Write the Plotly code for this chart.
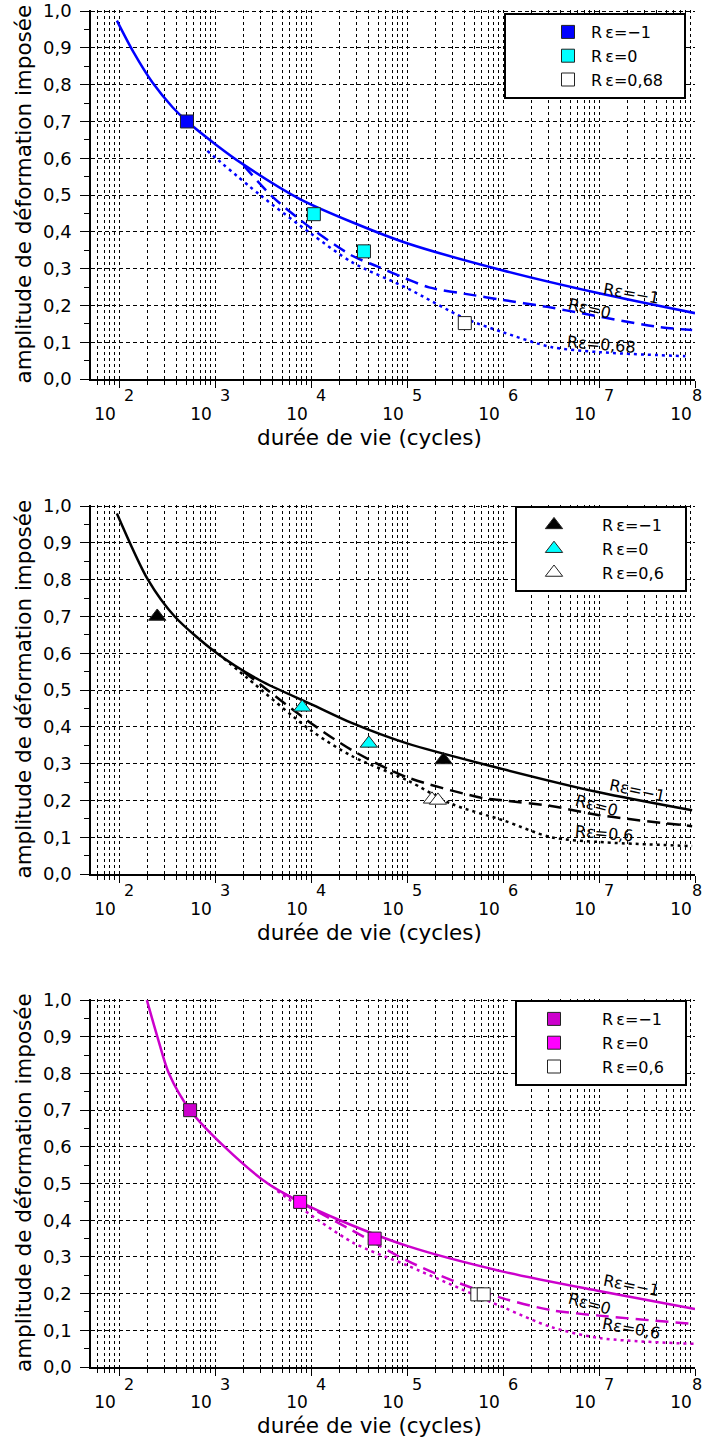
import math
import plotly.graph_objects as go

FONT = "DejaVu Sans, Liberation Sans, Arial, sans-serif"

# ---------------- axes ----------------
decades = [1e2, 1e3, 1e4, 1e5, 1e6, 1e7, 1e8]
decade_base = ["10"] * 7
decade_exp = ["2", "3", "4", "5", "6", "7", "8"]
minor_x = [m * 10 ** k for k in range(1, 8) for m in range(2, 10) if m * 10 ** k > 50]
y_ticks = [0.0, 0.1, 0.2, 0.3, 0.4, 0.5, 0.6, 0.7, 0.8, 0.9, 1.0]
y_ticklabels = ["0,0", "0,1", "0,2", "0,3", "0,4", "0,5", "0,6", "0,7", "0,8", "0,9", "1,0"]
y_minor = [0.05, 0.15, 0.25, 0.35, 0.45, 0.55, 0.65, 0.75, 0.85, 0.95]
x_title = "durée de vie (cycles)"
y_title = "amplitude de déformation imposée"

# ---------------- panel 1 (blue) ----------------
p1_m1_N = [95, 141, 224, 363, 513, 1047, 1950, 7670, 26900, 1e5, 1e6, 1e7, 1e8]
p1_m1_amp = [0.974, 0.889, 0.805, 0.738, 0.70, 0.635, 0.584, 0.489, 0.426, 0.369, 0.295, 0.233, 0.179]
p1_0_N = [1995, 3981, 1e4, 26900, 48980, 95500, 169800, 489800, 933300, 2884000, 5623000, 38020000, 93330000]
p1_0_amp = [0.58, 0.495, 0.41, 0.335, 0.306, 0.274, 0.249, 0.228, 0.216, 0.196, 0.182, 0.143, 0.133]
p1_r_N = [832, 2951, 1e4, 26900, 1e5, 398100, 1e6, 3162000, 1e7, 79430000]
p1_r_amp = [0.62, 0.50, 0.395, 0.317, 0.247, 0.165, 0.127, 0.087, 0.073, 0.062]
p1_pts_m1_N = [510]
p1_pts_m1_amp = [0.70]
p1_pts_0_N = [10700, 35600]
p1_pts_0_amp = [0.448, 0.347]
p1_pts_r_N = [400000]
p1_pts_r_amp = [0.152]

# ---------------- panel 2 (black) ----------------
p2_m1_N = [95, 200, 380, 1047, 2951, 1e4, 26900, 1e5, 1e6, 1e7, 93330000]
p2_m1_amp = [0.98, 0.80, 0.70, 0.60, 0.526, 0.462, 0.41, 0.355, 0.285, 0.222, 0.173]
p2_0_N = [1995, 1e4, 26900, 1e5, 631000, 1e6, 3162000, 1e7, 93330000]
p2_0_amp = [0.55, 0.41, 0.336, 0.263, 0.206, 0.20, 0.185, 0.16, 0.13]
p2_r_N = [955, 2138, 1e4, 26900, 1e5, 295100, 1e6, 3162000, 1e7, 93330000]
p2_r_amp = [0.61, 0.534, 0.39, 0.32, 0.255, 0.19, 0.146, 0.10, 0.087, 0.076]
p2_pts_m1_N = [250, 240000]
p2_pts_m1_amp = [0.70, 0.31]
p2_pts_0_N = [8100, 40000]
p2_pts_0_amp = [0.453, 0.355]
p2_pts_r_N = [182000, 210000]
p2_pts_r_amp = [0.203, 0.20]

# ---------------- panel 3 (magenta) ----------------
p3_m1_N = [195, 251, 331, 550, 1259, 3548, 7700, 19950, 1e5, 1e6, 1e7, 1e8]
p3_m1_amp = [1.0, 0.90, 0.80, 0.70, 0.60, 0.50, 0.45, 0.40, 0.33, 0.26, 0.207, 0.158]
p3_0_N = [5012, 26900, 1e5, 295100, 1e6, 3162000, 1e7, 1e8]
p3_0_amp = [0.475, 0.372, 0.29, 0.236, 0.187, 0.155, 0.14, 0.117]
p3_r_N = [4467, 26900, 1e5, 1e6, 3162000, 1e7, 1e8]
p3_r_amp = [0.48, 0.34, 0.277, 0.163, 0.109, 0.079, 0.063]
p3_pts_m1_N = [550]
p3_pts_m1_amp = [0.70]
p3_pts_0_N = [7700, 46000]
p3_pts_0_amp = [0.45, 0.35]
p3_pts_r_N = [540000, 630000]
p3_pts_r_amp = [0.198, 0.198]

# curve labels: (text, N, amp, angle)
p1_labels = [("Rε=−1", 2.2e7, 0.233, 10), ("Rε=0", 7.9e6, 0.192, 13), ("Rε=0,68", 1.07e7, 0.095, 5)]
p2_labels = [("Rε=−1", 2.5e7, 0.228, 12), ("Rε=0", 9.5e6, 0.187, 15), ("Rε=0,6", 1.15e7, 0.111, 5)]
p3_labels = [("Rε=−1", 2.2e7, 0.223, 11), ("Rε=0", 7.9e6, 0.174, 15), ("Rε=0,6", 2.2e7, 0.106, 10)]

PAD = "\u00a0\u00a0\u00a0"
legend_names = [["R\u2009ε=−1" + PAD, "R\u2009ε=0" + PAD, "R\u2009ε=0,68" + PAD],
                ["R\u2009ε=−1" + PAD, "R\u2009ε=0" + PAD, "R\u2009ε=0,6" + PAD],
                ["R\u2009ε=−1" + PAD, "R\u2009ε=0" + PAD, "R\u2009ε=0,6" + PAD]]

W, H = 704, 1443
x_dom = [91 / W, 695 / W]
panels_px = [(10, 379), (505, 874), (999, 1367)]  # top, bottom pixel rows
legend_px = [(686, 13), (687, 506), (687, 1000)]
legend_item = [(36, 39), (86, -11), (86, -11)]  # itemwidth, indentation

panels = [
    dict(color="#0000ff", curves=[(p1_m1_N, p1_m1_amp), (p1_0_N, p1_0_amp), (p1_r_N, p1_r_amp)],
         pts=[(p1_pts_m1_N, p1_pts_m1_amp), (p1_pts_0_N, p1_pts_0_amp), (p1_pts_r_N, p1_pts_r_amp)],
         symbol="square", fills=["#0000ff", "#00ffff", "#ffffff"], labels=p1_labels),
    dict(color="#000000", curves=[(p2_m1_N, p2_m1_amp), (p2_0_N, p2_0_amp), (p2_r_N, p2_r_amp)],
         pts=[(p2_pts_m1_N, p2_pts_m1_amp), (p2_pts_0_N, p2_pts_0_amp), (p2_pts_r_N, p2_pts_r_amp)],
         symbol="triangle-up", fills=["#000000", "#00ffff", "#ffffff"], labels=p2_labels),
    dict(color="#cc00cc", curves=[(p3_m1_N, p3_m1_amp), (p3_0_N, p3_0_amp), (p3_r_N, p3_r_amp)],
         pts=[(p3_pts_m1_N, p3_pts_m1_amp), (p3_pts_0_N, p3_pts_0_amp), (p3_pts_r_N, p3_pts_r_amp)],
         symbol="square", fills=["#cc00cc", "#ff00ff", "#ffffff"], labels=p3_labels),
]

dashes = ["solid", "13px,7px", "3px,4px"]

fig = go.Figure()
annotations = []
layout = dict(
    width=W, height=H, margin=dict(l=0, r=0, t=0, b=0, autoexpand=False),
    paper_bgcolor="white", plot_bgcolor="white",
    font=dict(family=FONT, color="black"),
    showlegend=True,
)

for i, p in enumerate(panels):
    sfx = "" if i == 0 else str(i + 1)
    xa, ya = "x" + sfx, "y" + sfx
    leg = "legend" + sfx
    top, bot = panels_px[i]
    for (N, amp), dash in zip(p["curves"], dashes):
        fig.add_trace(go.Scatter(x=N, y=amp, mode="lines", xaxis=xa, yaxis=ya, showlegend=False,
                                 line=dict(color=p["color"], width=2.5, dash=dash, shape="spline", smoothing=0.8),
                                 hoverinfo="skip"))
    for (N, amp), fill, name in zip(p["pts"], p["fills"], legend_names[i]):
        fig.add_trace(go.Scatter(x=N, y=amp, mode="markers", xaxis=xa, yaxis=ya, name=name, legend=leg,
                                 marker=dict(symbol=p["symbol"], size=13 if p["symbol"] == "square" else 15,
                                             color=fill, line=dict(color="#222222", width=1))))
    layout["xaxis" + sfx] = dict(
        type="log", range=[1.708, 8.0], domain=x_dom, anchor=ya,
        tickvals=decades, ticktext=decade_base, ticks="outside", ticklen=7, tickcolor="black",
        tickfont=dict(size=17, family=FONT), ticklabelshift=-14, ticklabelstandoff=12,
        showline=True, linecolor="black", linewidth=1.5, zeroline=False,
        showgrid=True, gridcolor="#000000", gridwidth=1, griddash="3px,3px",
        minor=dict(tickvals=minor_x, ticks="outside", ticklen=4, tickcolor="black",
                   showgrid=True, gridcolor="#000000", gridwidth=1, griddash="3px,3px"),
    )
    layout["yaxis" + sfx] = dict(
        range=[0, 1.003], domain=[1 - bot / H, 1 - top / H], anchor=xa,
        tickvals=y_ticks, ticktext=y_ticklabels, ticks="outside", ticklen=9, tickcolor="black",
        tickfont=dict(size=18, family=FONT), ticklabelstandoff=5,
        showline=True, linecolor="black", linewidth=1.5, zeroline=False,
        showgrid=True, gridcolor="#000000", gridwidth=1, griddash="4px,3px",
        minor=dict(tickvals=y_minor, ticks="outside", ticklen=5, tickcolor="black", showgrid=False),
    )
    lx, ly = legend_px[i]
    iw, ind = legend_item[i]
    layout[leg] = dict(x=lx / W, xanchor="right", y=1 - ly / H, yanchor="top",
                       bgcolor="white", bordercolor="black", borderwidth=2,
                       font=dict(size=16, family=FONT), itemwidth=iw, indentation=ind,
                       tracegroupgap=0, traceorder="normal")
    # exponents of decade labels
    for j, (v, e) in enumerate(zip(decades, decade_exp)):
        annotations.append(dict(x=math.log10(v), y=0, xref=xa, yref=ya, text=e, showarrow=False,
                                xanchor="left", yanchor="middle", xshift=3 if j < 6 else -5, yshift=-17,
                                font=dict(size=16, family=FONT)))
    # curve labels
    for txt, N, amp, ang in p["labels"]:
        annotations.append(dict(x=math.log10(N), y=amp, xref=xa, yref=ya, text=txt, showarrow=False,
                                textangle=ang, xanchor="center", yanchor="middle",
                                font=dict(size=16, family=FONT)))
    # axis titles
    annotations.append(dict(x=370 / W, y=1 - (bot + 58) / H, xref="paper", yref="paper", text=x_title,
                            showarrow=False, xanchor="center", yanchor="middle", font=dict(size=21.5, family=FONT)))
    annotations.append(dict(x=23 / W, y=1 - (top + bot) / 2 / H, xref="paper", yref="paper", text=y_title,
                            showarrow=False, textangle=-90, xanchor="center", yanchor="middle",
                            font=dict(size=21.5, family=FONT)))

layout["annotations"] = annotations
fig.update_layout(**layout)
fig.write_html("out.html", config={"displayModeBar": False},
               post_script="document.body.style.margin='0px';document.body.style.padding='0px';")
